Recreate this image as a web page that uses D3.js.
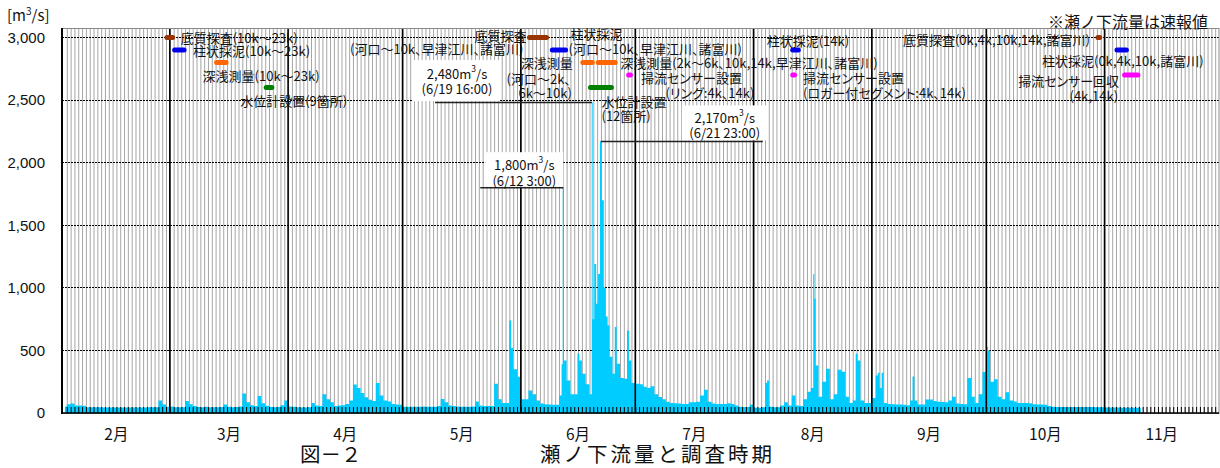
<!DOCTYPE html>
<html lang="ja">
<head>
<meta charset="utf-8">
<title>瀬ノ下流量と調査時期</title>
<script src="https://cdn.jsdelivr.net/npm/d3@7/dist/d3.min.js"></script>
<style>
  html, body { margin: 0; padding: 0; background: #fff; }
  svg { display: block; }
  text { font-family: "Noto Sans CJK JP", "Noto Sans", sans-serif; fill: #111; }
  .num { font-family: "Liberation Sans", Arial, sans-serif; }
  .prop { font-feature-settings: "palt"; }
</style>
</head>
<body>
<svg id="chart" width="1220" height="468"></svg>
<script>
// Calendar year used for the time axis (a non-leap year, Feb has 28 days)
const YEAR = 2018;

// Daily flow at Senoshita [m3/s], one value per day
const flowFeb = [52,70,76,60,60,58,46, 45,45,45,44,44,44,44, 44,44,44,44,44,44,44, 44,45,45,46, 100,68,50];
const flowMar = [52,46,45,46,95,70,55, 48,46,50,46,45,45,48, 68,50,46,48,52,155,85, 62,55,135,78,58,48,46, 48,62,100];
const flowApr = [52,50,45,44,44,45,80, 60,55,150,110,85,55,60, 62,72,100,228,200,160,125, 105,95,239,140,100,92,72, 68,65];
const flowMay = [50,50,50,50,50,52,50, 50,50,55,111,85,60,55, 52,50,50,50,52,92,60, 55,55,55,233,110,80,80, 520,350,290];
const flowJun = [110,110,180,150,100,75,70, 68,66,65,140,420,260,150, 150,420,313,230,150,1190,1110, 1700,770,450,313,393,280,273, 420,240];
const flowJul = [233,230,210,200,213,150,127, 110,90,80,78,75,72,72, 85,85,90,140,185,90,75, 72,72,72,78,72,60,50, 47,47,67];
const flowAug = [42,42,45,240,50,45,45, 60,85,60,140,60,55,110, 170,200,380,130,250,353,110, 150,345,330,130,80,100,420, 100,80,80];
const flowSep = [120,300,200,79,72,70,68, 68,65,62,100,100,67,67, 107,107,95,90,88,85,100, 130,75,72,70,279,130,80, 150,327];
const flowOct = [500,250,270,130,110,165,100, 92,80,79,79,78,70,68, 68,66,55,50,48,47,47, 47,47,47,47,47,47,47, 46,46,46];
const flowNov = [44,44,43,43,42,42,42, 42,42,41];

// Short-lived hourly peaks [date time, m3/s]
const flowPeaks = [
  ["5/29 10:00", 740],
  ["6/11 21:00", 390],
  ["6/12 3:00", 1800],
  ["6/16 4:00", 476],
  ["6/19 16:00", 2480],
  ["6/20 0:00", 750],
  ["6/21 0:00", 873],
  ["6/21 23:00", 2170],
  ["6/23 0:00", 1000],
  ["6/24 0:00", 700],
  ["6/25 18:00", 687],
  ["6/29 4:00", 660],
  ["8/4 14:00", 260],
  ["8/16 19:00", 1110],
  ["8/17 2:00", 913],
  ["8/28 1:00", 473],
  ["9/2 15:00", 321],
  ["9/3 16:00", 321],
  ["9/11 20:00", 292],
  ["10/1 9:00", 527]
];

const yTicks = [0, 500, 1000, 1500, 2000, 2500, 3000];
const monthNames = ["2月","3月","4月","5月","6月","7月","8月","9月","10月","11月"];

// Peaks that get a value callout
const peakNotes = ["6/19 16:00", "6/21 23:00", "6/12 3:00"];

// Survey periods (inclusive dates) and the flow level their bar is drawn at
const surveys = [
  { kind: "sediment", from: "2/28",  to: "3/1",   level: 3000, text: ["底質探査(10k～23k)"] },
  { kind: "core",     from: "3/2",   to: "3/4",   level: 2900, text: ["柱状採泥(10k～23k)"] },
  { kind: "sounding", from: "3/13",  to: "3/15",  level: 2800, text: ["深浅測量(10k～23k)"] },
  { kind: "gauge",    from: "3/26",  to: "3/27",  level: 2600, text: ["水位計設置(9箇所)"] },
  { kind: "sediment", from: "6/3",   to: "6/7",   level: 3000, text: ["底質探査", "(河口～10k、早津江川、諸富川)"] },
  { kind: "core",     from: "6/9",   to: "6/12",  level: 2900, text: ["柱状採泥", "(河口～10k、早津江川、諸富川)"] },
  { kind: "sounding", from: "6/17",  to: "6/19",  level: 2800, text: ["深浅測量", "(河口～2k、", "6k～10k)"] },
  { kind: "sounding", from: "6/21",  to: "6/25",  level: 2800, text: ["深浅測量(2k～6k、10k,14k,早津江川、諸富川)"] },
  { kind: "gauge",    from: "6/19",  to: "6/24",  level: 2600, text: ["水位計設置", "(12箇所)"] },
  { kind: "sensor",   from: "6/29",  to: "6/29",  level: 2700, text: ["掃流センサー設置", "(リング:4k、14k)"] },
  { kind: "core",     from: "8/11",  to: "8/12",  level: 2900, text: ["柱状採泥(14k)"] },
  { kind: "sensor",   from: "8/11",  to: "8/11",  level: 2700, text: ["掃流センサー設置", "(ロガー付セグメント:4k、14k)"] },
  { kind: "sediment", from: "10/30", to: "10/30", level: 3000, text: ["底質探査(0k,4k,10k,14k,諸富川)"] },
  { kind: "core",     from: "11/4",  to: "11/6",  level: 2900, text: ["柱状採泥(0k,4k,10k,諸富川)"] },
  { kind: "sensor",   from: "11/6",  to: "11/9",  level: 2700, text: ["掃流センサー回収", "(4k,14k)"] }
];

// ---- styling / layout ----
const surveyColor = { sediment: "#993300", core: "#0000ee", sounding: "#ff6600", gauge: "#008000", sensor: "#ff00ff" };

// label placement relative to the bar: side of the bar, text-anchor, [dx, dy] per line
const surveyLabelLayout = [
  { side: "end",   anchor: "start", lines: [[7, 0]] },
  { side: "end",   anchor: "start", lines: [[8, 0]] },
  { side: "start", anchor: "start", lines: [[-13, 12.5]] },
  { side: "start", anchor: "start", lines: [[-25, 12.5]] },
  { side: "start", anchor: "end",   lines: [[-2, -2], [-5, 11]] },
  { side: "end",   anchor: "start", lines: [[4, -17], [2, -2]] },
  { side: "start", anchor: "end",   lines: [[-9, 0], [-11, 16], [-10, 30]] },
  { side: "end",   anchor: "start", lines: [[4, 0]] },
  { side: "start", anchor: "start", lines: [[12, 13.5], [12, 27.5]] },
  { side: "end",   anchor: "start", lines: [[9.5, 2], [34, 17]] },
  { side: "start", anchor: "start", lines: [[-25, -10]] },
  { side: "end",   anchor: "start", lines: [[7.5, 2], [7.5, 17]] },
  { side: "start", anchor: "end",   lines: [[-7, 1.5]] },
  { side: "start", anchor: "start", lines: [[-74, 10]] },
  { side: "start", anchor: "end",   lines: [[-4.5, 5], [-5.5, 20]] }
];

// callout placement relative to the peak (px)
const peakNoteLayout = [
  { lineTo: -157, textDx: -135, textDy: [-29.5, -14.5], box: [-179, -42.5, 87, 41] },
  { lineTo: 162,  textDx: 124,  textDy: [-24, -9],      box: [81, -36, 86, 35] },
  { lineTo: -83,  textDx: -39,  textDy: [-23.5, -7.5],  box: [-78, -35.5, 78, 34.5] }
];

const P = { l: 62, r: 1219, t: 28, b: 413 };

// ---- helpers ----
function parseStamp(s) {
  const [md, hm = "12:00"] = s.split(" ");
  const [m, d] = md.split("/").map(Number);
  const [h, mi] = hm.split(":").map(Number);
  return new Date(YEAR, m - 1, d, h, mi);
}
function dayStart(s) {
  const [m, d] = s.split("/").map(Number);
  return new Date(YEAR, m - 1, d);
}

// ---- series ----
const monthly = [flowFeb, flowMar, flowApr, flowMay, flowJun, flowJul, flowAug, flowSep, flowOct, flowNov];
const series = [];
monthly.forEach((vals, i) => vals.forEach((v, d) => series.push({ t: new Date(YEAR, i + 1, d + 1, 12), v })));
flowPeaks.forEach(([s, v]) => series.push({ t: parseStamp(s), v }));
series.sort((a, b) => a.t - b.t);
const peakValue = new Map(flowPeaks);

// ---- scales ----
const x = d3.scaleTime().domain([new Date(YEAR, 1, 1), new Date(YEAR, 11, 1)]).range([63, 1219]);
const y = d3.scaleLinear().domain([0, 3000]).range([413, 37.5]);

const svg = d3.select("#chart");

// daily vertical grid
const days = d3.timeDay.range(new Date(YEAR, 1, 2), new Date(YEAR, 11, 1));
svg.append("g")
  .attr("transform", `translate(0,${P.b})`)
  .call(d3.axisBottom(x).tickValues(days).tickSize(-(P.b - P.t)).tickFormat(""))
  .call(g => g.select(".domain").remove())
  .call(g => g.selectAll(".tick line").attr("stroke", "#a6a6a6").attr("stroke-width", 1));

// horizontal dotted grid
svg.append("g")
  .selectAll("line")
  .data(yTicks.filter(v => v > 0))
  .join("line")
  .attr("x1", P.l).attr("x2", P.r)
  .attr("y1", d => y(d)).attr("y2", d => y(d))
  .attr("stroke", "#000")
  .attr("stroke-width", 1)
  .attr("stroke-dasharray", "1.5,1.5")
  .attr("shape-rendering", "crispEdges");

// flow, drawn as hourly/daily blocks
const area = d3.area()
  .curve(d3.curveStep)
  .x(d => x(d.t))
  .y0(y(0))
  .y1(d => y(d.v));
svg.append("path")
  .datum(series)
  .attr("d", area)
  .attr("fill", "#00ccff");

// month boundaries
const monthStarts = d3.timeMonth.range(new Date(YEAR, 2, 1), new Date(YEAR, 10, 2));
svg.append("g")
  .selectAll("line")
  .data(monthStarts)
  .join("line")
  .attr("x1", d => x(d)).attr("x2", d => x(d))
  .attr("y1", P.t).attr("y2", P.b)
  .attr("stroke", "#000")
  .attr("stroke-width", 1.6);

// daily tick marks along the bottom
svg.append("g")
  .attr("transform", `translate(0,${P.b})`)
  .call(d3.axisBottom(x).tickValues(days).tickSize(-6).tickFormat(""))
  .call(g => g.select(".domain").remove())
  .call(g => g.selectAll(".tick line").attr("stroke", "#000").attr("stroke-width", 1));

// frame
svg.append("rect")
  .attr("x", P.l).attr("y", P.t + 0.5)
  .attr("width", P.r - P.l).attr("height", P.b - P.t)
  .attr("fill", "none").attr("stroke", "#8a8a8a").attr("stroke-width", 1);
svg.append("line").attr("x1", P.l).attr("x2", P.l).attr("y1", P.t).attr("y2", P.b + 1)
  .attr("stroke", "#000").attr("stroke-width", 2);
svg.append("line").attr("x1", P.l).attr("x2", P.r).attr("y1", P.b).attr("y2", P.b)
  .attr("stroke", "#000").attr("stroke-width", 1.5);

// y axis labels
svg.append("g")
  .attr("transform", `translate(${P.l},0)`)
  .call(d3.axisLeft(y).tickValues(yTicks).tickFormat(d3.format(",")).tickSize(0).tickPadding(17))
  .call(g => g.select(".domain").remove())
  .call(g => g.selectAll("text")
    .attr("class", "num")
    .attr("font-size", 15)
    .attr("fill", "#111"));

// unit
const unit = svg.append("text").attr("x", 7).attr("y", 21).attr("font-size", 15);
unit.append("tspan").text("[m");
unit.append("tspan").attr("font-size", 10).attr("dy", -6).text("3");
unit.append("tspan").attr("dy", 6).text("/s]");

// month labels centred in each month
svg.append("g")
  .selectAll("text")
  .data(monthNames)
  .join("text")
  .attr("x", (d, i) => {
    const a = new Date(YEAR, i + 1, 1), b = new Date(YEAR, i + 2, 1);
    return x(new Date((+a + +b) / 2));
  })
  .attr("y", 433)
  .attr("text-anchor", "middle")
  .attr("dominant-baseline", "central")
  .attr("font-size", 15.5)
  .text(d => d);

// note and titles
svg.append("text").attr("x", 1048).attr("y", 21).attr("dominant-baseline", "central")
  .attr("font-size", 16).text("※瀬ノ下流量は速報値");
svg.append("text").attr("x", 300).attr("y", 461.5)
  .attr("font-size", 20.5).text("図－２");
svg.append("text").attr("x", 540).attr("y", 461.5)
  .attr("font-size", 20.5).attr("letter-spacing", 3).text("瀬ノ下流量と調査時期");

// peak callouts
const fmt = d3.format(",");
peakNotes.forEach((stamp, i) => {
  const L = peakNoteLayout[i];
  const v = peakValue.get(stamp);
  const px = x(parseStamp(stamp)), py = y(v);
  const g = svg.append("g");
  g.append("rect")
    .attr("x", px + L.box[0]).attr("y", py + L.box[1])
    .attr("width", L.box[2]).attr("height", L.box[3])
    .attr("fill", "#fff");
  g.append("line")
    .attr("x1", px).attr("x2", px + L.lineTo)
    .attr("y1", py).attr("y2", py)
    .attr("stroke", "#222").attr("stroke-width", 1.5);
  const t1 = g.append("text")
    .attr("x", px + L.textDx).attr("y", py + L.textDy[0])
    .attr("text-anchor", "middle").attr("dominant-baseline", "central")
    .attr("font-size", 13);
  t1.append("tspan").text(fmt(v) + "m");
  t1.append("tspan").attr("font-size", 8.5).attr("dy", -5).text("3");
  t1.append("tspan").attr("dy", 5).text("/s");
  const [md, hm] = stamp.split(" ");
  g.append("text")
    .attr("x", px + L.textDx).attr("y", py + L.textDy[1])
    .attr("text-anchor", "middle").attr("dominant-baseline", "central")
    .attr("font-size", 13)
    .text(`(${md} ${hm.padStart(5, " ")})`);
});

// survey bars and labels
const oneDay = 24 * 3600 * 1000;
surveys.forEach((s, i) => {
  const L = surveyLabelLayout[i];
  const x0 = x(dayStart(s.from));
  const x1 = x(new Date(+dayStart(s.to) + oneDay));
  const ly = y(s.level);
  const col = surveyColor[s.kind];
  svg.append("line")
    .attr("x1", x0 + 1).attr("x2", Math.max(x0 + 1, x1 - 1))
    .attr("y1", ly).attr("y2", ly)
    .attr("stroke", col).attr("stroke-width", 5).attr("stroke-linecap", "round");
  const ref = L.side === "start" ? x0 : x1;
  s.text.forEach((t, j) => {
    const [dx, dy] = L.lines[j];
    svg.append("text")
      .attr("class", "prop")
      .attr("x", ref + dx).attr("y", ly + dy)
      .attr("text-anchor", L.anchor)
      .attr("dominant-baseline", "central")
      .attr("font-size", 13)
      .attr("fill", col)
      .text(t);
  });
});
</script>
</body>
</html>
